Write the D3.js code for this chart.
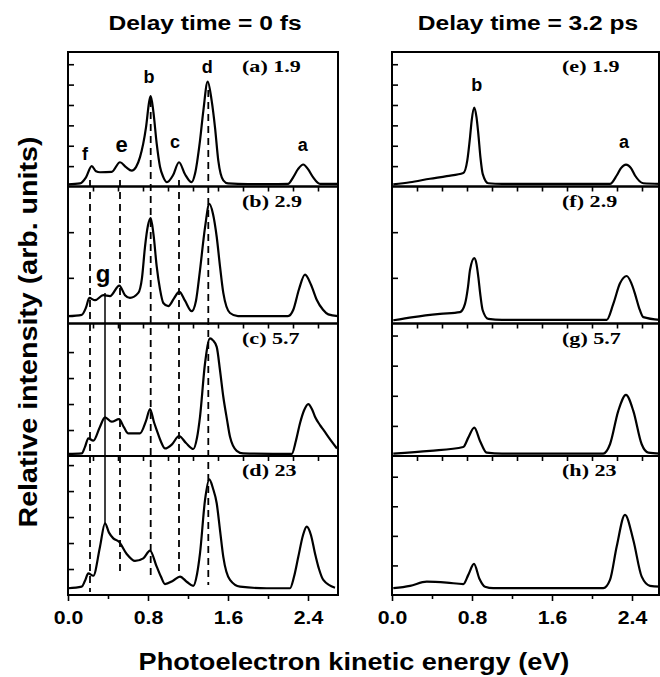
<!DOCTYPE html>
<html>
<head>
<meta charset="utf-8">
<script src="https://cdn.jsdelivr.net/npm/d3@7"></script>
<style>
  body { margin: 0; background: #fff; }
  svg { display: block; }
</style>
</head>
<body>
<div id="chart"></div>
<script>
// ---- data ----
const columnTitles = ["Delay time = 0 fs", "Delay time = 3.2 ps"];
const panelLabels = [
    ["(a) 1.9", "(b) 2.9", "(c) 5.7", "(d) 23"],
    ["(e) 1.9", "(f) 2.9", "(g) 5.7", "(h) 23"],
];
const xTickValues = [0.0, 0.4, 0.8, 1.2, 1.6, 2.0, 2.4];
const xTickLabelled = [0.0, 0.8, 1.6, 2.4];
const xMinorTicks = [0.25, 0.5, 0.75, 1.0, 1.25, 1.5, 1.75, 2.0, 2.25, 2.5];
// y extent of each panel, in tick units
const yMax0fs = [6.6, 3.0, 5.1, 5.35];
const yMax32ps = [6.6, 3.0, 4.4, 4.7];
// dashed guide energies (eV): f, e, b, c, d ; solid guide: g
const guideEnergies = [0.22, 0.52, 0.827, 1.11, 1.403];
const guideG = 0.37;

// spectra [energy eV, intensity]
const spec_a = [[0.0,0.10],[0.12,0.15],[0.18,0.45],[0.237,1.0],[0.28,0.75],[0.32,0.7],[0.437,0.72],[0.52,1.19],[0.58,0.95],[0.637,0.78],[0.68,0.95],[0.72,1.44],[0.78,2.9],[0.813,4.2],[0.827,4.43],[0.853,3.7],[0.887,2.1],[0.92,0.97],[0.953,0.46],[0.99,0.21],[1.05,0.55],[1.11,1.19],[1.17,0.6],[1.237,0.21],[1.27,0.62],[1.32,2.25],[1.353,3.7],[1.397,5.15],[1.437,4.2],[1.47,2.9],[1.503,1.27],[1.553,0.3],[1.60,0.15],[1.8,0.12],[2.0,0.12],[2.2,0.13],[2.253,0.46],[2.30,0.85],[2.353,1.08],[2.40,0.85],[2.45,0.46],[2.52,0.13],[2.7,0.13]];
const spec_b = [[0.0,0.16],[0.137,0.19],[0.18,0.35],[0.213,0.56],[0.27,0.51],[0.353,0.62],[0.42,0.6],[0.513,0.83],[0.57,0.62],[0.62,0.56],[0.703,0.67],[0.74,1.0],[0.77,1.68],[0.80,2.15],[0.827,2.31],[0.855,1.95],[0.887,1.25],[0.92,0.75],[0.953,0.45],[1.003,0.38],[1.06,0.55],[1.113,0.70],[1.17,0.5],[1.237,0.27],[1.28,0.5],[1.32,1.17],[1.37,2.1],[1.413,2.62],[1.45,2.4],[1.487,1.9],[1.52,1.25],[1.553,0.67],[1.62,0.23],[1.7,0.16],[2.2,0.16],[2.253,0.3],[2.31,0.75],[2.37,1.07],[2.43,0.85],[2.487,0.52],[2.55,0.3],[2.603,0.2],[2.7,0.16]];
const spec_c = [[0.0,0.08],[0.137,0.1],[0.17,0.35],[0.203,0.68],[0.253,0.59],[0.32,1.13],[0.37,1.49],[0.437,1.32],[0.51,1.42],[0.56,1.1],[0.603,0.87],[0.72,0.87],[0.78,1.35],[0.82,1.81],[0.86,1.3],[0.887,1.0],[0.93,0.55],[0.97,0.29],[1.04,0.45],[1.11,0.77],[1.18,0.5],[1.253,0.27],[1.29,0.7],[1.32,1.51],[1.37,3.56],[1.42,4.53],[1.45,4.45],[1.487,4.2],[1.52,3.3],[1.553,2.28],[1.59,1.4],[1.62,0.74],[1.687,0.2],[1.75,0.1],[2.237,0.08],[2.28,0.6],[2.32,1.26],[2.36,1.75],[2.403,2.0],[2.44,1.8],[2.47,1.51],[2.52,1.19],[2.56,0.98],[2.603,0.74],[2.69,0.29]];
const spec_d = [[0.0,0.26],[0.137,0.32],[0.17,0.55],[0.203,0.83],[0.253,0.74],[0.32,1.86],[0.37,2.76],[0.41,2.4],[0.453,2.18],[0.51,2.05],[0.587,1.58],[0.67,1.31],[0.753,1.41],[0.82,1.71],[0.887,1.09],[0.93,0.7],[0.97,0.42],[1.05,0.55],[1.12,0.71],[1.19,0.5],[1.253,0.35],[1.29,0.8],[1.32,1.6],[1.37,3.65],[1.413,4.45],[1.45,4.1],[1.487,3.53],[1.52,2.5],[1.553,1.47],[1.62,0.58],[1.72,0.32],[1.987,0.26],[2.22,0.26],[2.26,0.7],[2.303,1.47],[2.35,2.3],[2.387,2.63],[2.43,2.3],[2.47,1.6],[2.51,1.0],[2.553,0.58],[2.67,0.28]];
const spec_e = [[0.013,0.1],[0.18,0.21],[0.38,0.38],[0.547,0.51],[0.713,0.66],[0.753,1.28],[0.78,2.4],[0.797,3.25],[0.823,3.87],[0.845,3.4],[0.863,2.59],[0.885,1.4],[0.907,0.62],[0.963,0.16],[1.1,0.13],[2.18,0.13],[2.247,0.54],[2.29,0.9],[2.34,1.07],[2.39,0.9],[2.43,0.54],[2.513,0.16],[2.68,0.13]];
const spec_f = [[0.013,0.07],[0.213,0.14],[0.48,0.21],[0.68,0.25],[0.73,0.43],[0.76,0.8],[0.78,1.17],[0.823,1.43],[0.845,1.3],[0.863,1.02],[0.885,0.6],[0.907,0.29],[0.963,0.1],[1.1,0.08],[2.147,0.08],[2.213,0.43],[2.28,0.88],[2.347,1.04],[2.39,0.9],[2.43,0.65],[2.47,0.35],[2.513,0.14],[2.68,0.08]];
const spec_g = [[0.013,0.08],[0.38,0.17],[0.713,0.3],[0.763,0.61],[0.823,0.94],[0.88,0.5],[0.947,0.11],[1.1,0.08],[2.113,0.08],[2.18,0.39],[2.263,1.5],[2.34,2.03],[2.413,1.5],[2.497,0.39],[2.563,0.11],[2.68,0.08]];
const spec_h = [[0.013,0.23],[0.18,0.31],[0.347,0.45],[0.547,0.42],[0.713,0.37],[0.763,0.68],[0.82,1.05],[0.873,0.56],[0.93,0.28],[1.013,0.23],[2.113,0.23],[2.18,0.51],[2.247,1.64],[2.33,2.71],[2.413,1.86],[2.497,0.62],[2.58,0.31],[2.68,0.28]];

const spectra = [
    [spec_a, spec_b, spec_c, spec_d],
    [spec_e, spec_f, spec_g, spec_h],
];
const yMaxes = [yMax0fs, yMax32ps];

// ---- layout ----
const W = 660, H = 677;
const colX = [[68, 338, 2.70], [392, 659, 2.67]];
const rowY = [52, 186.5, 323.5, 456, 595];
const SANS = "'Liberation Sans', Arial, Helvetica, sans-serif";
const SERIF = "'Liberation Serif', 'Times New Roman', serif";

const svg = d3.select("#chart").append("svg")
    .attr("width", W).attr("height", H);

// text that is a bit wider than the font, as in the scanned figure
function addText(parent, x, y, str, size, stretch, opts = {}) {
    return parent.append("text")
        .attr("transform", `translate(${x},${y})${opts.rotate ? " rotate(-90)" : ""} scale(${stretch},1)`)
        .attr("text-anchor", opts.anchor || "start")
        .attr("font-family", opts.family || SANS)
        .attr("font-weight", "bold")
        .attr("font-size", size)
        .text(str);
}

const xScales = colX.map(([x0, x1, emax]) =>
    d3.scaleLinear().domain([0, emax]).range([x0, x1]));

const line = d3.line().curve(d3.curveMonotoneX);

spectra.forEach((col, c) => {
    const x = xScales[c];
    col.forEach((spec, r) => {
        const top = rowY[r], bot = rowY[r + 1];
        const y = d3.scaleLinear().domain([0, yMaxes[c][r]]).range([bot, top]);
        const g = svg.append("g");

        // y ticks, inward
        g.append("g")
            .attr("transform", `translate(${x.range()[0]},0)`)
            .call(d3.axisRight(y).tickValues(d3.range(1, Math.floor(yMaxes[c][r] - 0.2) + 1))
                .tickSize(6).tickFormat(""))
            .call(s => s.select(".domain").remove())
            .selectAll("line").attr("stroke-width", 1.6);

        // x ticks, outward
        if (r < 3) {
            g.append("g")
                .attr("transform", `translate(0,${bot})`)
                .call(d3.axisBottom(x).tickValues(xMinorTicks).tickSize(5).tickFormat(""))
                .call(s => s.select(".domain").remove())
                .selectAll("line").attr("stroke-width", 1.6);
        } else {
            const isLabelled = d => xTickLabelled.some(v => Math.abs(v - d) < 1e-6);
            const ax = g.append("g")
                .attr("transform", `translate(0,${bot})`)
                .call(d3.axisBottom(x).tickValues(xTickValues)
                    .tickSize(6).tickPadding(10)
                    .tickFormat(d => isLabelled(d) ? d3.format(".1f")(d) : ""))
                .call(s => s.select(".domain").remove());
            ax.selectAll("line").attr("stroke-width", 1.6)
                .attr("y2", d => isLabelled(d) ? 6 : 4);
            ax.selectAll("text")
                .attr("font-family", SANS).attr("font-weight", "bold")
                .attr("font-size", 19).attr("fill", "#000")
                .attr("transform", "scale(1.12,1)");
        }

        // spectrum
        g.append("path")
            .attr("d", line(spec.map(([e, v]) => [x(e), y(v)])))
            .attr("fill", "none").attr("stroke", "#000")
            .attr("stroke-width", 2.2).attr("stroke-linejoin", "round");

        // frame
        g.append("rect")
            .attr("x", x.range()[0]).attr("y", top)
            .attr("width", x.range()[1] - x.range()[0]).attr("height", bot - top)
            .attr("fill", "none").attr("stroke", "#000").attr("stroke-width", 2);

        // panel label
        addText(g, x.range()[0] + (c === 0 ? 174 : 170), top + 20,
            panelLabels[c][r], 17, 1.3, { family: SERIF });
    });
});

// ---- guide lines on the 0 fs column ----
const xL = xScales[0];
const guides = svg.append("g")
    .attr("stroke", "#000").attr("stroke-width", 1.8)
    .attr("stroke-dasharray", "7,5");
const guideTop = [180, 180, 100, 180, 90];
const guideBot = [592, 572, 580, 572, 585];
guideEnergies.forEach((e, i) => {
    guides.append("line")
        .attr("x1", xL(e)).attr("x2", xL(e))
        .attr("y1", guideTop[i]).attr("y2", guideBot[i]);
});
svg.append("line")
    .attr("x1", xL(guideG)).attr("x2", xL(guideG))
    .attr("y1", 293).attr("y2", 523)
    .attr("stroke", "#000").attr("stroke-width", 1.5);

// ---- peak letters ----
const peakTags = [
    { col: 0, e: 0.17, y: 160, t: "f", s: 18 },
    { col: 0, e: 0.537, y: 152, t: "e", s: 22 },
    { col: 0, e: 0.81, y: 83, t: "b", s: 18 },
    { col: 0, e: 1.07, y: 148, t: "c", s: 18 },
    { col: 0, e: 1.393, y: 73, t: "d", s: 18 },
    { col: 0, e: 2.347, y: 151, t: "a", s: 18 },
    { col: 0, e: 0.35, y: 282, t: "g", s: 24 },
    { col: 1, e: 0.847, y: 91, t: "b", s: 18 },
    { col: 1, e: 2.32, y: 148, t: "a", s: 18 },
];
svg.append("g").selectAll("text").data(peakTags).join("text")
    .attr("x", d => xScales[d.col](d.e)).attr("y", d => d.y)
    .attr("text-anchor", "middle")
    .attr("font-family", SANS).attr("font-weight", "bold")
    .attr("font-size", d => d.s).text(d => d.t);

// ---- titles and axis labels ----
addText(svg, 205, 30, columnTitles[0], 21, 1.17, { anchor: "middle" });
addText(svg, 528, 30, columnTitles[1], 21, 1.17, { anchor: "middle" });
addText(svg, 37, 332, "Relative intensity (arb. units)", 26, 1.1, { anchor: "middle", rotate: true });
addText(svg, 354, 670, "Photoelectron kinetic energy (eV)", 24, 1.13, { anchor: "middle" });
</script>
</body>
</html>
